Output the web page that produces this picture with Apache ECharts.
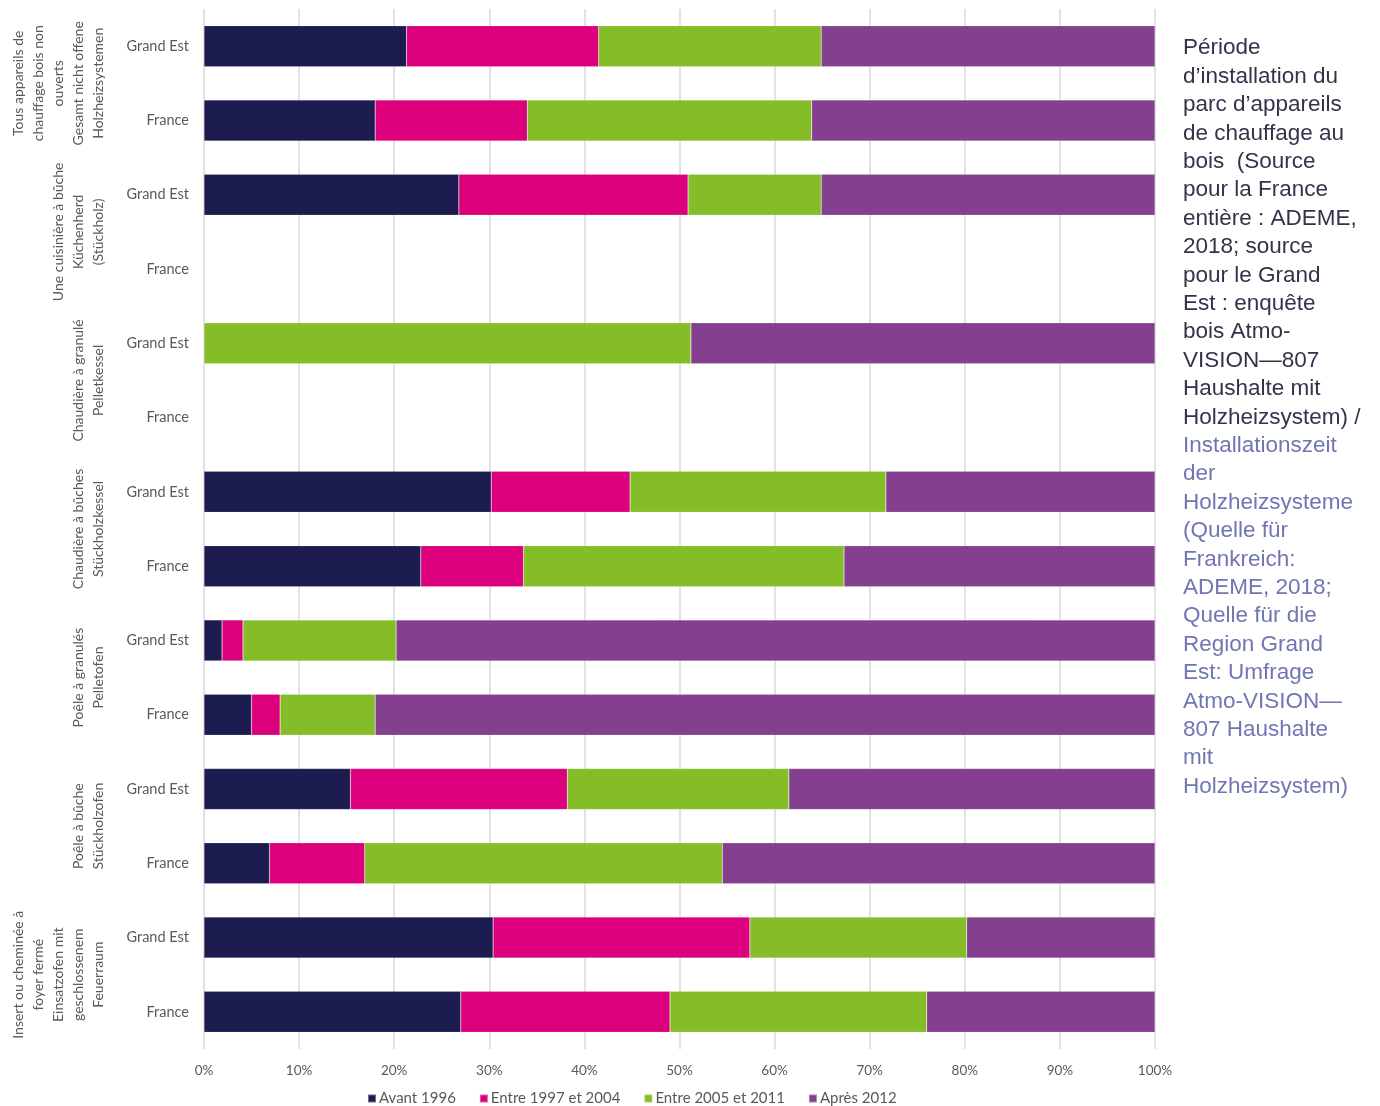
<!DOCTYPE html>
<html>
<head>
<meta charset="utf-8">
<title>Période d'installation des appareils de chauffage au bois</title>
<script src="https://cdn.jsdelivr.net/npm/echarts@6/dist/echarts.min.js"></script>
<style>
	html, body { margin: 0; padding: 0; background: #ffffff; }
	#chart { width: 1380px; height: 1106px; }
</style>
</head>
<body>
<div id="chart"></div>
<script>
// lignes du graphique (de haut en bas)
var rowLabels = ['Grand Est', 'France', 'Grand Est', 'France', 'Grand Est', 'France', 'Grand Est',
	'France', 'Grand Est', 'France', 'Grand Est', 'France', 'Grand Est', 'France'];

// groupes d'appareils (un groupe = 2 lignes)
var groupLabels = [
	'Tous appareils de\nchauffage bois non\nouverts\nGesamt nicht offene\nHolzheizsystemen',
	'Une cuisinière à bûche\nKüchenherd\n(Stückholz)',
	'Chaudière à granulé\nPelletkessel',
	'Chaudière à bûches\nStückholzkessel',
	'Poêle à granulés\nPelletofen',
	'Poêle à bûche\nStückholzofen',
	'Insert ou cheminée à\nfoyer fermé\nEinsatzofen mit\ngeschlossenem\nFeuerraum'
];

var seriesNames = ['Avant 1996', 'Entre 1997 et 2004', 'Entre 2005 et 2011', 'Après 2012'];

// valeurs en % (null = pas de donnée)
var avant1996 = [21.3, 18.0, 26.8, null, 0, null, 30.2, 22.8, 1.9, 5.0, 15.4, 6.9, 30.4, 27.0];
var entre1997 = [20.2, 16.0, 24.1, null, 0, null, 14.6, 10.8, 2.2, 3.0, 22.8, 10.0, 27.0, 22.0];
var entre2005 = [23.4, 29.9, 14.0, null, 51.2, null, 26.9, 33.7, 16.1, 10.0, 23.3, 37.6, 22.8, 27.0];
var apres2012 = [35.1, 36.1, 35.1, null, 48.8, null, 28.3, 32.7, 79.8, 82.0, 38.5, 45.5, 19.8, 24.0];

var xTicks = [0, 10, 20, 30, 40, 50, 60, 70, 80, 90, 100];

var noteFr = 'Période\nd’installation du\nparc d’appareils\nde chauffage au\nbois  (Source\npour la France\nentière : ADEME,\n2018; source\npour le Grand\nEst : enquête\nbois Atmo-\nVISION—807\nHaushalte mit\nHolzheizsystem) /';
var noteDe = 'Installationszeit\nder\nHolzheizsysteme\n(Quelle für\nFrankreich:\nADEME, 2018;\nQuelle für die\nRegion Grand\nEst: Umfrage\nAtmo-VISION—\n807 Haushalte\nmit\nHolzheizsystem)';

var colors = ['#1c1c50', '#dc007c', '#84bd27', '#843f8f'];
var seriesData = [avant1996, entre1997, entre2005, apres2012];

var gridTop = 9, gridBottom = 57, chartHeight = 1106;
var rowHeight = (chartHeight - gridTop - gridBottom) / rowLabels.length;

var chart = echarts.init(document.getElementById('chart'));

// libellés des groupes, tournés à 90°
var graphics = [];
for (var g = 0; g < groupLabels.length; g ++) {
	graphics.push({
		type: 'text',
		x: 108,
		y: gridTop + (2 * g + 1) * rowHeight,
		rotation: Math.PI / 2,
		style: {
			text: groupLabels[g],
			fill: '#595959',
			font: '14px Lato',
			lineHeight: 20,
			align: 'center',
			verticalAlign: 'bottom'
		}
	});
}
// note à droite
graphics.push({
	type: 'text', x: 1183, y: 34,
	style: { text: noteFr, fill: '#33334a', font: '22.5px "Liberation Sans"', lineHeight: 28.4, align: 'left', verticalAlign: 'top' }
});
graphics.push({
	type: 'text', x: 1183, y: 34 + 14 * 28.4,
	style: { text: noteDe, fill: '#7076b2', font: '22.5px "Liberation Sans"', lineHeight: 28.4, align: 'left', verticalAlign: 'top' }
});

var series = [];
for (var i = 0; i < seriesNames.length; i ++) {
	series.push({
		name: seriesNames[i],
		type: 'bar',
		stack: 'total',
		barWidth: 41,
		itemStyle: { color: colors[i], borderColor: 'rgba(255,255,255,0.35)', borderWidth: 0.5 },
		data: seriesData[i]
	});
}

chart.setOption({
	animation: false,
	textStyle: { fontFamily: 'Lato' },
	grid: { left: 204, right: 225, top: gridTop, bottom: gridBottom },
	legend: {
		left: 362,
		top: 1086,
		icon: 'rect',
		itemWidth: 8,
		itemHeight: 8,
		itemGap: 23,
		textStyle: { color: '#595959', fontSize: 15, padding: [0, 0, 0, -2] },
		data: seriesNames
	},
	xAxis: {
		type: 'value',
		min: xTicks[0],
		max: xTicks[xTicks.length - 1],
		interval: 10,
		axisLine: { show: false },
		axisTick: { show: false },
		axisLabel: { color: '#595959', fontSize: 13.5, margin: 15, formatter: '{value}%' },
		splitLine: { lineStyle: { color: '#d9d9d9', width: 1.5 } }
	},
	yAxis: {
		type: 'category',
		inverse: true,
		data: rowLabels.map(function(l, idx) { return String(idx); }),
		axisLine: { show: false },
		axisTick: { show: false },
		axisLabel: {
			color: '#595959',
			fontSize: 14.5,
			margin: 15,
			formatter: function(v) { return rowLabels[parseInt(v)]; }
		}
	},
	graphic: graphics,
	series: series
});
</script>
</body>
</html>
